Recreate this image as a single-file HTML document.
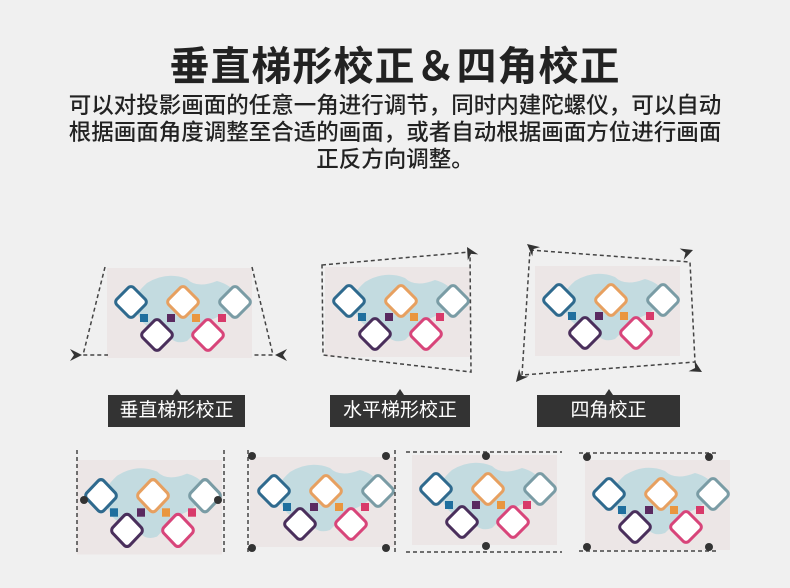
<!DOCTYPE html>
<html><head><meta charset="utf-8"><style>
body{margin:0;width:790px;height:588px;background:#f0f0f0;overflow:hidden;position:relative;font-family:"Liberation Sans","Noto Sans CJK SC",sans-serif}
.t{position:absolute;left:0;width:790px;text-align:center;color:#222}
.lab{position:absolute;height:32px;background:#333;color:#fff;font-size:19px;line-height:32px;text-align:center}
.lab:before{content:"";position:absolute;left:50%;top:-6px;margin-left:-4px;border:4px solid transparent;border-bottom:6px solid #333;border-top:0}
</style></head><body>
<div class="t" style="top:34px;font-size:40px;font-weight:bold;letter-spacing:1px">垂直梯形校正＆四角校正</div>
<div class="t" style="top:92px;font-size:22.5px;line-height:27px;color:#222;font-weight:500">可以对投影画面的任意一角进行调节，同时内建陀螺仪，可以自动<br>根据画面角度调整至合适的画面，或者自动根据画面方位进行画面<br>正反方向调整。</div>
<svg width="790" height="588" style="position:absolute;left:0;top:0">
<defs>
<g id="s">
<rect width="145" height="90" fill="#ece6e6"/>
<path d="M40 15 q20-12 40-4 q10 10 30 2 q15 4 20 15 q-10 20-30 25 q-10 10-20 20 q-15 5-20-10 q-25 0-30-20 q-10-10 10-28z" fill="#a9d3dc" opacity=".6"/>
<g fill="#fff" stroke-width="3">
<rect x="12" y="22" width="24" height="24" rx="4" transform="rotate(45 24 34)" stroke="#2f6a8e"/>
<rect x="64" y="22" width="24" height="24" rx="4" transform="rotate(45 76 34)" stroke="#e7a060"/>
<rect x="116" y="22" width="24" height="24" rx="4" transform="rotate(45 128 34)" stroke="#7a9ca5"/>
<rect x="38" y="55" width="24" height="24" rx="4" transform="rotate(45 50 67)" stroke="#4a2f5c"/>
<rect x="89" y="55" width="24" height="24" rx="4" transform="rotate(45 101 67)" stroke="#d8457a"/>
</g>
<rect x="33" y="46" width="8" height="8" fill="#1f6f9e"/>
<rect x="60" y="46" width="8" height="8" fill="#5a2a60"/>
<rect x="85" y="46" width="8" height="8" fill="#e9963f"/>
<rect x="111" y="46" width="8" height="8" fill="#d83a6a"/>
</g>
<path id="a" d="M0 0 L-12 -6 L-8 0 L-12 6z" fill="#333"/>
</defs>
<use href="#s" x="107" y="268"/>
<use href="#s" x="325" y="267"/>
<use href="#s" x="535" y="266"/>
<g stroke="#444" stroke-width="1.5" stroke-dasharray="4 3" fill="none">
<path d="M105 267 L83 355 L108 355 M252 267 L273 355 L252 355"/>
<path d="M322 265 L470 252 L471 372 L323 355 Z"/>
<path d="M530 250 L690 262 L695 362 L522 375 Z"/>
</g>
<use href="#a" transform="translate(82,355)"/>
<use href="#a" transform="translate(275,355) rotate(180)"/>
<use href="#a" transform="translate(467,247) rotate(-120)"/>
<use href="#a" transform="translate(527,244) rotate(-140)"/>
<use href="#a" transform="translate(693,250) rotate(-20)"/>
<use href="#a" transform="translate(702,372) rotate(30)"/>
<use href="#a" transform="translate(516,382) rotate(130)"/>
<g transform="translate(77,460) scale(1,1.05)"><use href="#s"/></g>
<use href="#s" x="250" y="457"/>
<use href="#s" x="412" y="455"/>
<use href="#s" x="585" y="460"/>
<g stroke="#444" stroke-width="1.5" stroke-dasharray="4 3" fill="none">
<path d="M77 450 V555 M224 450 V555"/>
<path d="M248 450 V555 M395 450 V555"/>
<path d="M406 452 H562 M406 552 H562"/>
<path d="M579 453 H718 M579 551 H718"/>
</g>
<g fill="#333">
<circle cx="84" cy="500" r="4"/><circle cx="218" cy="500" r="4"/>
<circle cx="252" cy="456" r="4"/><circle cx="386" cy="456" r="4"/><circle cx="252" cy="548" r="4"/><circle cx="386" cy="548" r="4"/>
<circle cx="486" cy="456" r="4"/><circle cx="486" cy="546" r="4"/>
<circle cx="587" cy="457" r="4"/><circle cx="709" cy="457" r="4"/><circle cx="587" cy="547" r="4"/><circle cx="709" cy="547" r="4"/>
</g>
</svg>
<div class="lab" style="left:108px;top:395px;width:137px">垂直梯形校正</div>
<div class="lab" style="left:330px;top:395px;width:140px">水平梯形校正</div>
<div class="lab" style="left:537px;top:395px;width:143px">四角校正</div>
</body></html>
